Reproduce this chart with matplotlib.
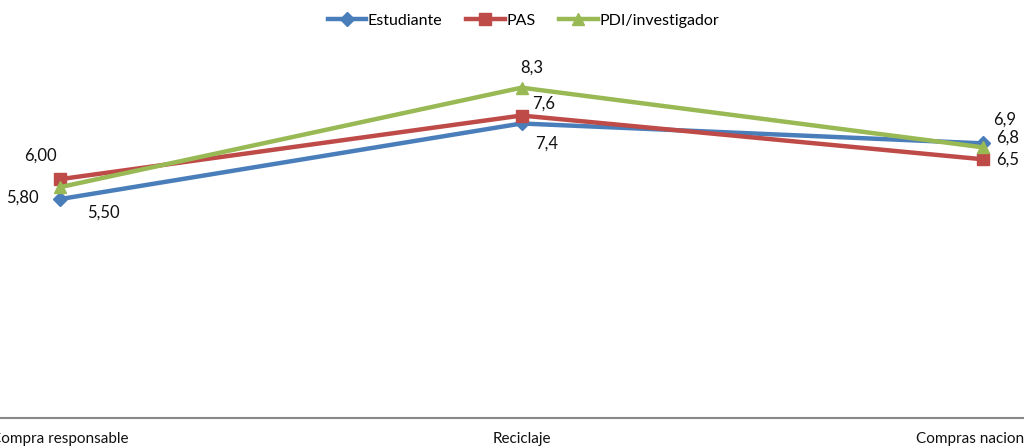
import matplotlib.pyplot as plt
import numpy as np

plt.rcParams['font.family'] = ['Lato', 'DejaVu Sans']

categorias = ['Compra responsable', 'Reciclaje', 'Compras nacionales']
estudiante = [5.50, 7.4, 6.9]
pas = [6.00, 7.6, 6.5]
pdi = [5.80, 8.3, 6.8]

etiquetas_est = ['5,50', '7,4', '6,9']
etiquetas_pas = ['6,00', '7,6', '6,5']
etiquetas_pdi = ['5,80', '8,3', '6,8']

fig = plt.figure(figsize=(10.24, 4.48), dpi=100)
ax = fig.add_axes([0, 30 / 448, 1, 398 / 448])

x = np.arange(len(categorias))
ax.plot(x, estudiante, color='#4A7EBB', lw=3.2, marker='D', ms=7, label='Estudiante')
ax.plot(x, pas, color='#BE4B48', lw=3.2, marker='s', ms=9, label='PAS')
ax.plot(x, pdi, color='#98B954', lw=3.2, marker='^', ms=9, label='PDI/investigador')

# desplazamientos de las etiquetas en pixeles
off_est = [(43, -14), (25, -20), (22, 24)]
off_pas = [(-20, 24), (22, 12), (25, 0)]
off_pdi = [(-38, -10), (10, 20), (25, 10)]

for serie, etq, offs in [(estudiante, etiquetas_est, off_est),
                         (pas, etiquetas_pas, off_pas),
                         (pdi, etiquetas_pdi, off_pdi)]:
    for xi, yi, t, o in zip(x, serie, etq, offs):
        ax.annotate(t, xy=(xi, yi), xytext=o, textcoords='offset pixels',
                    ha='center', va='center', fontsize=12, color='#111111')

ax.set_xlim(-60 / 461.5, 964 / 461.5)
ax.set_ylim(0, 10)
ax.set_xticks(x)
ax.set_xticklabels(categorias, fontsize=11, color='#111111')
ax.tick_params(axis='x', length=0, pad=10)
ax.set_yticks([])
for s in ['top', 'right', 'left']:
    ax.spines[s].set_visible(False)
ax.spines['bottom'].set_color('#888888')
ax.spines['bottom'].set_linewidth(1.5)

ax.legend(loc='center', bbox_to_anchor=(0.511, 0.998), ncol=3, frameon=False,
          fontsize=11.5, handlelength=2.4, handletextpad=0.1, columnspacing=1.5)

fig.savefig('out.png', dpi=100)
